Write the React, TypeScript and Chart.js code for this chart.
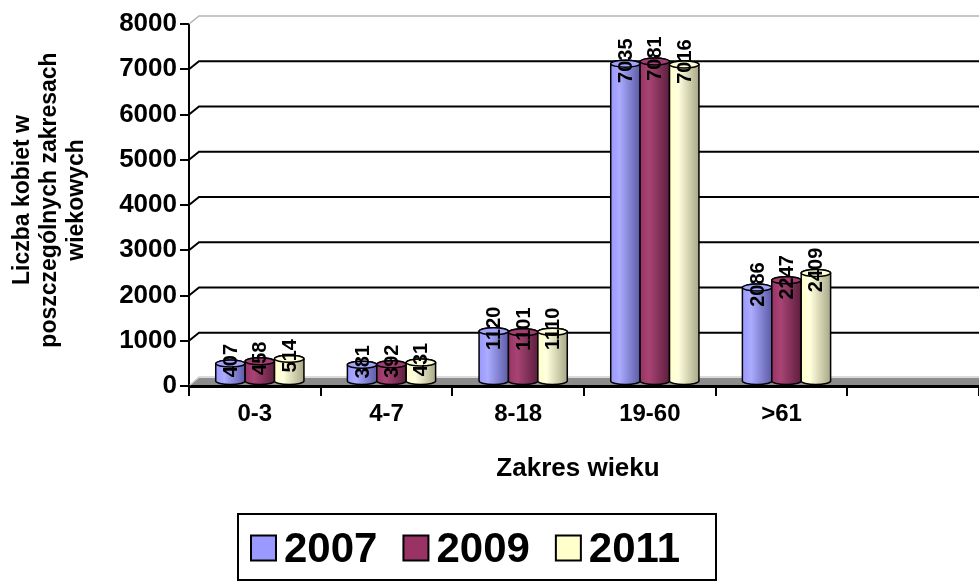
import React, { useEffect, useRef } from 'react';
import { Chart, registerables } from 'chart.js';

Chart.register(...registerables);

// ---- data ----
const categories = ['0-3', '4-7', '8-18', '19-60', '>61', ''];
const seriesNames = ['2007', '2009', '2011'];
const values2007 = [407, 381, 1120, 7035, 2086, null];
const values2009 = [458, 392, 1101, 7081, 2247, null];
const values2011 = [514, 431, 1110, 7016, 2409, null];
const yMin = 0;
const yMax = 8000;
const yStep = 1000;
const yTitleLines = ['Liczba kobiet w', 'poszczególnych zakresach', 'wiekowych'];
const xTitle = 'Zakres wieku';

// ---- styles ----
const baseColors = ['#9999FF', '#993366', '#FFFFCC'];
const lightColors = ['#ababff', '#a84474', '#ffffdd'];
const darkColors = ['#5b5ba6', '#5c1e3d', '#a8a888'];
const capColors = ['#a3a3ff', '#a33c70', '#ffffd8'];
const FONT = 'Arial, "Liberation Sans", sans-serif';

const DX = 10; // wall depth offset x
const DY = 8; // wall depth offset y
const BX = 5; // bar mid-depth offset
const BY = -4;

const plugin3d = {
  id: 'excel3d',
  beforeDatasetsDraw(chart: any) {
    const { ctx, chartArea: a, scales } = chart;
    const y = scales.y;
    const W = chart.width;
    ctx.save();
    const y0 = y.getPixelForValue(0);
    // floor
    ctx.fillStyle = '#8c8c8c';
    ctx.beginPath();
    ctx.moveTo(a.left, y0 - 1);
    ctx.lineTo(a.left + DX, y0 - DY);
    ctx.lineTo(W + DX, y0 - DY);
    ctx.lineTo(W, y0 - 1);
    ctx.closePath();
    ctx.fill();
    ctx.strokeStyle = '#d0d0d0';
    ctx.lineWidth = 1.5;
    ctx.beginPath();
    ctx.moveTo(a.left + 1, y0 - 1);
    ctx.lineTo(a.left + DX, y0 - DY - 1);
    ctx.lineTo(W + DX, y0 - DY - 1);
    ctx.stroke();
    // back wall gridlines
    y.ticks.forEach((t: any) => {
      if (t.value === yMin) return;
      const py = y.getPixelForValue(t.value);
      const top = t.value === yMax;
      ctx.strokeStyle = top ? '#b4b4b4' : '#000000';
      ctx.lineWidth = top ? 1.5 : 2;
      ctx.beginPath();
      ctx.moveTo(a.left, py);
      ctx.lineTo(a.left + DX, py - DY);
      ctx.lineTo(W + DX, py - DY);
      ctx.stroke();
    });
    ctx.restore();
  },
  afterDatasetsDraw(chart: any) {
    const { ctx } = chart;
    ctx.save();
    const items: any[] = [];
    chart.data.datasets.forEach((ds: any, di: number) => {
      const meta = chart.getDatasetMeta(di);
      meta.data.forEach((el: any, i: number) => {
        const v = ds.data[i];
        if (v == null) return;
        const p = el.getProps(['x', 'y', 'base', 'width'], true);
        const cx = p.x + BX;
        const ty = p.y + BY;
        const by = p.base + BY;
        const w = p.width;
        const l = cx - w / 2;
        const r = cx + w / 2;
        const ry = 3.5;
        const g = ctx.createLinearGradient(l, 0, r, 0);
        g.addColorStop(0, baseColors[di]);
        g.addColorStop(0.3, lightColors[di]);
        g.addColorStop(1, darkColors[di]);
        ctx.beginPath();
        ctx.moveTo(l, ty);
        ctx.lineTo(l, by);
        ctx.ellipse(cx, by, w / 2, ry, 0, Math.PI, 0, true);
        ctx.lineTo(r, ty);
        ctx.ellipse(cx, ty, w / 2, ry, 0, 0, Math.PI, true);
        ctx.closePath();
        ctx.fillStyle = g;
        ctx.fill();
        ctx.strokeStyle = '#000';
        ctx.lineWidth = 1.5;
        ctx.stroke();
        ctx.beginPath();
        ctx.ellipse(cx, ty, w / 2, ry, 0, 0, Math.PI * 2);
        ctx.fillStyle = capColors[di];
        ctx.fill();
        ctx.stroke();
        items.push({ cx, ty, v });
      });
    });
    ctx.fillStyle = '#000';
    ctx.font = `bold 20px ${FONT}`;
    ctx.textAlign = 'center';
    ctx.textBaseline = 'middle';
    items.forEach((it) => {
      ctx.save();
      ctx.translate(it.cx + 1, it.ty - 3);
      ctx.rotate(-Math.PI / 2);
      ctx.fillText(String(it.v), 0, 0);
      ctx.restore();
    });
    ctx.restore();
  },
  afterDraw(chart: any) {
    const { ctx } = chart;
    ctx.save();
    ctx.fillStyle = '#000';
    ctx.textAlign = 'center';
    ctx.textBaseline = 'middle';
    // y title
    ctx.font = `bold 23px ${FONT}`;
    yTitleLines.forEach((line, k) => {
      ctx.save();
      ctx.translate(23 + k * 27, 200);
      ctx.rotate(-Math.PI / 2);
      ctx.fillText(line, 0, 0);
      ctx.restore();
    });
    // x title
    ctx.font = `bold 26px ${FONT}`;
    ctx.fillText(xTitle, 578, 469);
    // legend
    const bx = 238, byy = 514, bw = 478, bh = 66;
    ctx.strokeStyle = '#000';
    ctx.lineWidth = 2;
    ctx.strokeRect(bx, byy, bw, bh);
    ctx.font = `bold 42px ${FONT}`;
    const sq = 25, gap = 8, G = 26;
    const widths = seriesNames.map((s) => ctx.measureText(s).width);
    let x = bx + 13;
    const cy = byy + bh / 2 + 1;
    ctx.textAlign = 'left';
    seriesNames.forEach((s, k) => {
      ctx.fillStyle = baseColors[k];
      ctx.fillRect(x, cy - sq / 2, sq, sq);
      ctx.strokeStyle = '#000';
      ctx.lineWidth = 2;
      ctx.strokeRect(x, cy - sq / 2, sq, sq);
      ctx.fillStyle = '#000';
      ctx.fillText(s, x + sq + gap, cy + 2);
      x += sq + gap + widths[k] + G;
    });
    ctx.restore();
  },
};

export default function App() {
  const ref = useRef<HTMLCanvasElement>(null);
  useEffect(() => {
    if (!ref.current) return;
    const series = [values2007, values2009, values2011];
    const chart = new Chart(ref.current, {
      type: 'bar',
      data: {
        labels: categories,
        datasets: series.map((d, k) => ({
          label: seriesNames[k],
          data: d,
          backgroundColor: 'rgba(0,0,0,0)',
          borderWidth: 0,
          categoryPercentage: 0.67,
          barPercentage: 1,
        })),
      },
      options: {
        animation: false,
        responsive: true,
        maintainAspectRatio: false,
        layout: { padding: { left: 0, right: 0, top: 24, bottom: 0 } },
        plugins: {
          legend: { display: false },
          tooltip: { enabled: false },
        },
        scales: {
          x: {
            grid: {
              display: true,
              offset: true,
              drawOnChartArea: false,
              drawTicks: true,
              tickLength: 10,
              color: '#000',
              lineWidth: 2,
            },
            border: { display: true, color: '#000', width: 3 },
            ticks: {
              color: '#000',
              font: { family: FONT, size: 24, weight: 'bold' },
              padding: 4,
              maxRotation: 0,
              autoSkip: false,
            },
            afterFit: (s: any) => {
              s.height = 196;
            },
          },
          y: {
            min: yMin,
            max: yMax,
            ticks: {
              stepSize: yStep,
              color: '#000',
              font: { family: FONT, size: 26, weight: 'bold' },
              padding: 3,
              callback: (v: any) => String(v),
            },
            grid: {
              display: true,
              drawOnChartArea: false,
              drawTicks: true,
              tickLength: 9,
              color: '#000',
              lineWidth: 2,
            },
            border: { display: true, color: '#000', width: 2 },
            afterFit: (s: any) => {
              s.width = 189;
            },
          },
        },
      },
      plugins: [plugin3d],
    });
    return () => chart.destroy();
  }, []);
  return (
    <div style={{ position: 'fixed', left: 0, top: 0, width: 979, height: 582, background: '#fff' }}>
      <canvas ref={ref} />
    </div>
  );
}
